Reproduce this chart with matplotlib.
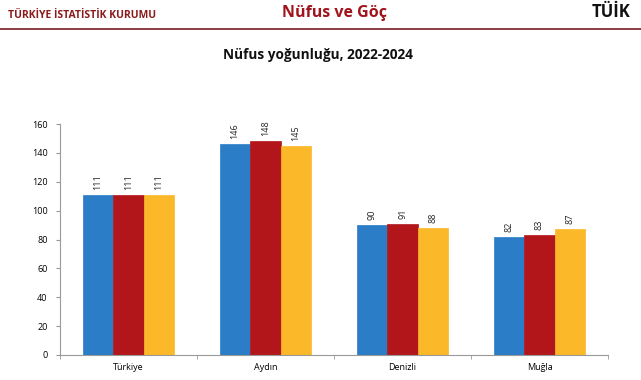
import matplotlib
matplotlib.use("Agg")
import matplotlib.pyplot as plt
import numpy as np

plt.rcParams['font.family'] = ['Open Sans', 'DejaVu Sans']

categories = ["Türkiye", "Aydın", "Denizli", "Muğla"]
series_2022 = [111, 146, 90, 82]
series_2023 = [111, 148, 91, 83]
series_2024 = [111, 145, 88, 87]
colors = ["#2A7DC6", "#B2161B", "#FBB829"]
yticks = [0, 20, 40, 60, 80, 100, 120, 140, 160]

fig = plt.figure(figsize=(6.41, 3.8), dpi=100)
ax = fig.add_axes([60/641, 1-355/380, 548/641, 231/380])

x = np.arange(len(categories))
w = 0.222
for i, (vals, c) in enumerate(zip([series_2022, series_2023, series_2024], colors)):
    pos = x + (i - 1) * w
    ax.bar(pos, vals, width=w, color=c, edgecolor=c, linewidth=0.5)
    for p, v in zip(pos, vals):
        ax.text(p, v + 3.5, str(v), rotation=90, ha='center', va='bottom', fontsize=6.5, color='#222222')

ax.set_xlim(-0.5, len(categories) - 0.5)
ax.set_ylim(0, 160)
ax.set_yticks(yticks)
ax.set_yticklabels([str(t) for t in yticks], fontsize=6.5)
ax.set_xticks(x)
ax.set_xticklabels(categories, fontsize=6.5)
ax.tick_params(axis='x', length=0, pad=6)
ax.set_xticks(np.arange(-0.5, len(categories)), minor=True)
ax.tick_params(axis='x', which='minor', length=3, color='#999999')
ax.tick_params(axis='y', length=3, color='#999999', pad=6)
for s in ['top', 'right']:
    ax.spines[s].set_visible(False)
for s in ['left', 'bottom']:
    ax.spines[s].set_color('#999999')
    ax.spines[s].set_linewidth(0.8)

# Header
fig.text(8/641, 1-16/380, "TÜRKİYE İSTATİSTİK KURUMU", fontsize=7.5, fontweight='bold',
         color='#8B1A1A', va='center', ha='left')
fig.text(334/641, 1-13/380, "Nüfus ve Göç", fontsize=11.5, fontweight='bold',
         color='#A0141E', va='center', ha='center')
fig.text(630/641, 1-12/380, "TÜİK", fontsize=12, fontweight='bold',
         color='#111111', va='center', ha='right')
fig.add_artist(plt.Line2D([0, 1], [1-29/380, 1-29/380], color='#7A1A22', linewidth=1.2,
                          transform=fig.transFigure))

fig.text(318/641, 1-55/380, "Nüfus yoğunluğu, 2022-2024", fontsize=9.8, fontweight='bold',
         color='#111111', va='center', ha='center')

fig.savefig("out.png", dpi=100)
